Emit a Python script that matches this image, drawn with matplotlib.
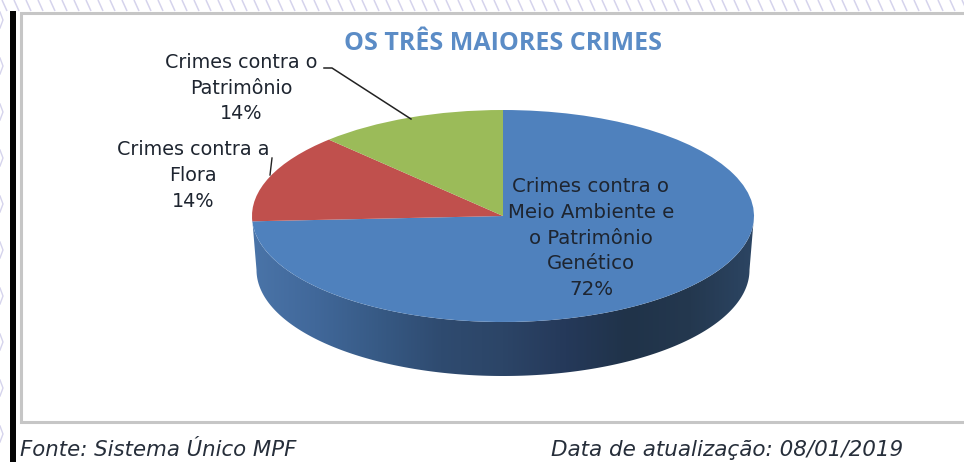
import numpy as np
import matplotlib
matplotlib.use("Agg")
import matplotlib.pyplot as plt
from matplotlib.patches import Polygon, Rectangle
from matplotlib.colors import LinearSegmentedColormap

W, H = 964, 462
title = "OS TRÊS MAIORES CRIMES"
categories = ["Crimes contra o\nMeio Ambiente e\no Patrimônio\nGenético",
              "Crimes contra a\nFlora",
              "Crimes contra o\nPatrimônio"]
shares = [72, 14, 14]
# apparent slice sizes on the tilted disc (perspective distorts them)
apparent_shares = [74.2, 13.6, 12.2]
top_colors = ["#4F81BD", "#C0504D", "#9BBB59"]
source_text = "Fonte: Sistema Único MPF"
date_text = "Data de atualização: 08/01/2019"

CX, CY, RX, RY, DEPTH = 503, 216, 251, 106, 54

fig = plt.figure(figsize=(W / 100, H / 100), dpi=100, facecolor="white")

# pixel-space page layer
bg = fig.add_axes([0, 0, 1, 1], zorder=0)
bg.set_xlim(0, W)
bg.set_ylim(H, 0)
bg.axis("off")
hatch_color = "#D5D3EC"
for x0 in range(-10, W + 20, 12):
    bg.plot([x0, x0 + 5], [0, 11], color=hatch_color, lw=1.1, solid_capstyle="butt")
for y0 in range(12, H, 46):
    bg.plot([0, 3, 0], [y0, y0 + 8, y0 + 16], color=hatch_color, lw=1.0)
bg.add_patch(Rectangle((10, 11), 6, H - 11, color="#050505", lw=0))
bg.plot([W, 20.5, 20.5, W], [13, 13, 421.5, 421.5], color="#C6C6C6", lw=2.2, solid_joinstyle="miter")

# pie layer: one data unit is one radius on each axis
ax = fig.add_axes([0, 0, 1, 1], zorder=1)
ax.patch.set_alpha(0)
wedges, _ = ax.pie(apparent_shares, colors=top_colors, startangle=90, counterclock=False,
                   radius=1, wedgeprops=dict(lw=0, zorder=3))
ax.set_aspect("auto")
ax.axis("off")

# side wall of the disc
d = DEPTH / RY
taper = 0.982
t = np.linspace(np.pi, 2 * np.pi, 300)
ex, ey = np.cos(t), np.sin(t)
wall = np.r_[np.c_[ex, ey], np.c_[taper * ex[::-1], ey[::-1] - d]]
poly = Polygon(wall, closed=True, transform=ax.transData, fc="none", ec="none")
ax.add_patch(poly)
wall_cmap = LinearSegmentedColormap.from_list(
    "wall", ["#4A74A8", "#41689A", "#375A85", "#2F4B70", "#2C4567", "#25395A", "#203349", "#24384F", "#2C4563"])
grad = np.linspace(0, 1, 256)[None, :]
im = ax.imshow(grad, extent=(-1, 1, -1 - d, 0), cmap=wall_cmap, aspect="auto", zorder=2)
im.set_clip_path(poly)
ax.set_xlim(-CX / RX, (W - CX) / RX)
ax.set_ylim((CY - H) / RY, CY / RY)

# text layer in pixel space
tx = fig.add_axes([0, 0, 1, 1], zorder=2)
tx.set_xlim(0, W)
tx.set_ylim(H, 0)
tx.axis("off")
font = "DejaVu Sans"
label_color = "#1E2530"
tx.text(503, 44, title, color="#5B8CC6", fontsize=18, fontweight="bold", family="Open Sans",
        ha="center", va="center")

tx.text(591, 238, f"{categories[0]}\n{shares[0]}%", fontsize=14.2, color=label_color, family=font,
        ha="center", va="center", linespacing=1.45)
tx.text(193, 175.5, f"{categories[1]}\n{shares[1]}%", fontsize=13.8, color=label_color, family=font,
        ha="center", va="center", linespacing=1.44)
tx.text(241, 88, f"{categories[2]}\n{shares[2]}%", fontsize=13.8, color=label_color, family=font,
        ha="center", va="center", linespacing=1.46)

tx.plot([324, 332, 411], [68, 68, 119], color="#222222", lw=1.1)
tx.plot([272, 270], [158, 175], color="#222222", lw=1.0)

tx.text(20, 450, source_text, fontsize=15.3, style="italic", color="#262E3A", family=font,
        ha="left", va="center")
tx.text(551, 450, date_text, fontsize=15.5, style="italic", color="#262E3A", family=font,
        ha="left", va="center")

fig.savefig("out.png", dpi=100)
